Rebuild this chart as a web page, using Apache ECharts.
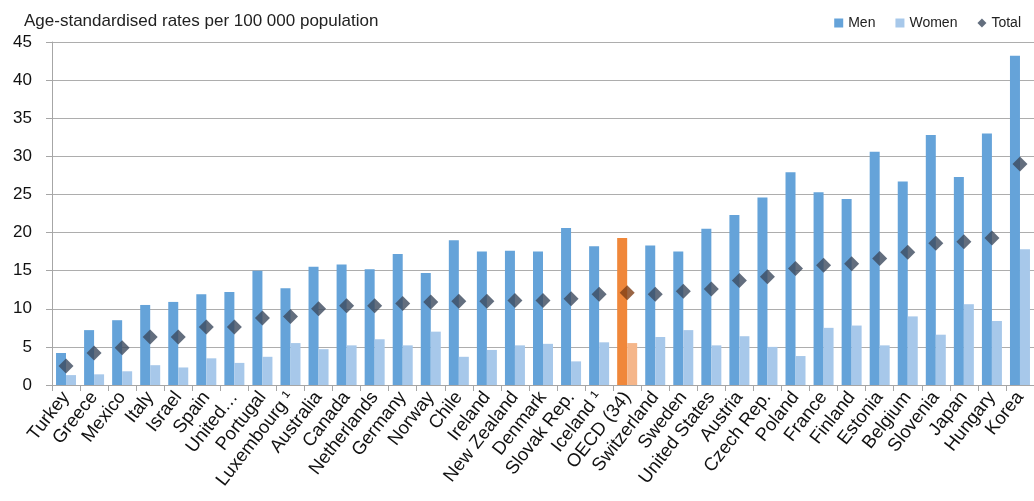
<!DOCTYPE html>
<html>
<head>
<meta charset="utf-8">
<script src="https://cdn.jsdelivr.net/npm/echarts@6/dist/echarts.min.js"></script>
<style>html,body{margin:0;padding:0;background:#fff}#c{width:1034px;height:501px}</style>
</head>
<body>
<div id="c"></div>
<script>
const categories = ["Turkey","Greece","Mexico","Italy","Israel","Spain","United…","Portugal","Luxembourg ¹","Australia","Canada","Netherlands","Germany","Norway","Chile","Ireland","New Zealand","Denmark","Slovak Rep.","Iceland ¹","OECD (34)","Switzerland","Sweden","United States","Austria","Czech Rep.","Poland","France","Finland","Estonia","Belgium","Slovenia","Japan","Hungary","Korea"];
const men   = [4.2,7.2,8.5,10.5,10.9,11.9,12.2,15.0,12.7,15.5,15.8,15.2,17.2,14.7,19.0,17.5,17.6,17.5,20.6,18.2,19.3,18.3,17.5,20.5,22.3,24.6,27.9,25.3,24.4,30.6,26.7,32.8,27.3,33.0,43.2];
const women = [1.3,1.4,1.8,2.6,2.3,3.5,2.9,3.7,5.5,4.7,5.2,6.0,5.2,7.0,3.7,4.6,5.2,5.4,3.1,5.6,5.5,6.3,7.2,5.2,6.4,5.0,3.8,7.5,7.8,5.2,9.0,6.6,10.6,8.4,17.8];
const total = [2.5,4.2,4.9,6.3,6.3,7.6,7.6,8.8,9.0,10.0,10.4,10.4,10.7,10.9,11.0,11.0,11.1,11.1,11.3,11.9,12.1,11.9,12.3,12.6,13.7,14.2,15.3,15.7,15.9,16.6,17.4,18.6,18.8,19.3,29.0];
const yTicks = [0,5,10,15,20,25,30,35,40,45];
const highlight = "OECD (34)";

const C_MEN = "#65A3D9", C_WOMEN = "#A7C8EA", C_TOT = "#3C4A5E";
const C_MEN_H = "#F0873A", C_WOMEN_H = "#F5B68A", C_TOT_H = "#7F3F16";

const chart = echarts.init(document.getElementById('c'), null, {renderer:'canvas'});
const font = "'Liberation Sans', Arial, sans-serif";
chart.setOption({
  animation:false,
  textStyle:{fontFamily:font},
  title:{text:"Age-standardised rates per 100 000 population", left:19, top:8,
    textStyle:{fontSize:17, fontWeight:'normal', color:'#222', fontFamily:font}},
  legend:{right:8, top:11, itemGap:20, itemWidth:9, itemHeight:9, textStyle:{fontSize:14,color:'#222',fontFamily:font},
    data:[{name:'Men', icon:'rect'},{name:'Women', icon:'rect'},{name:'Total', icon:'diamond'}]},
  grid:{left:52, right:-5, top:42, bottom:116, containLabel:false},
  xAxis:{type:'category', data:categories, boundaryGap:true,
    axisLine:{lineStyle:{color:'#A6A6A6'}},
    axisTick:{show:true, length:6, interval:0, lineStyle:{color:'#A6A6A6'}},
    axisLabel:{interval:0, rotate:52, fontSize:18.5, color:'#111', margin:9, fontFamily:font}},
  yAxis:{type:'value', min:yTicks[0], max:yTicks[yTicks.length-1], interval:5,
    axisLine:{show:true, lineStyle:{color:'#A6A6A6'}},
    axisTick:{show:true, length:6, lineStyle:{color:'#A6A6A6'}},
    splitLine:{lineStyle:{color:'#ADADAD', width:1}},
    axisLabel:{fontSize:17, color:'#111', margin:20, fontFamily:font}},
  series:[
    {name:'Men', type:'bar', barWidth:10, barGap:'0%', itemStyle:{color:C_MEN},
      data:men.map((v,i)=>categories[i]===highlight?{value:v,itemStyle:{color:C_MEN_H}}:v)},
    {name:'Women', type:'bar', barWidth:10, barGap:'0%', itemStyle:{color:C_WOMEN},
      data:women.map((v,i)=>categories[i]===highlight?{value:v,itemStyle:{color:C_WOMEN_H}}:v)},
    {name:'Total', type:'scatter', symbol:'diamond', symbolSize:[15,15], itemStyle:{color:C_TOT}, z:5,
      data:total.map((v,i)=>categories[i]===highlight?{value:v,itemStyle:{color:C_TOT_H}}:v)}
  ]
});
</script>
</body>
</html>
